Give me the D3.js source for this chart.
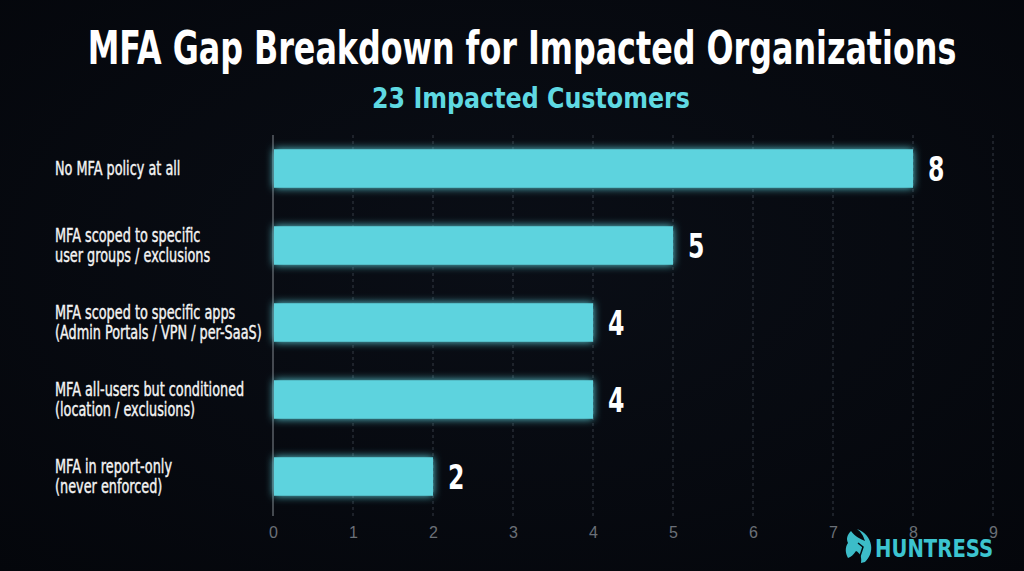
<!DOCTYPE html>
<html><head><meta charset="utf-8">
<script src="https://cdn.jsdelivr.net/npm/d3@7"></script>
<style>
html,body{margin:0;padding:0;background:#05080e;}
svg{display:block;}
</style></head>
<body>
<svg id="chart" width="1024" height="571"></svg>
<script>
const titleText = "MFA Gap Breakdown for Impacted Organizations";
const subtitleText = "23 Impacted Customers";
const categories = [
  ["No MFA policy at all"],
  ["MFA scoped to specific", "user groups / exclusions"],
  ["MFA scoped to specific apps", "(Admin Portals / VPN / per-SaaS)"],
  ["MFA all-users but conditioned", "(location / exclusions)"],
  ["MFA in report-only", "(never enforced)"]
];
const values = [8, 5, 4, 4, 2];
const xTicks = [0,1,2,3,4,5,6,7,8,9];
const brandText = "HUNTRESS";

const svg = d3.select("#chart");
const W = 1024, H = 571;
const cond = "'Liberation Sans Narrow','DejaVu Sans Condensed','Roboto Condensed',sans-serif";

const defs = svg.append("defs");
const bg = defs.append("radialGradient").attr("id","bg").attr("cx","50%").attr("cy","45%").attr("r","75%");
bg.append("stop").attr("offset","0%").attr("stop-color","#0a0e16");
bg.append("stop").attr("offset","100%").attr("stop-color","#04060b");
const glow = defs.append("filter").attr("id","glow").attr("x","-10%").attr("y","-60%").attr("width","120%").attr("height","220%");
glow.append("feGaussianBlur").attr("in","SourceGraphic").attr("stdDeviation",4).attr("result","b");
const fm = glow.append("feMerge");
fm.append("feMergeNode").attr("in","b");
fm.append("feMergeNode").attr("in","SourceGraphic");

svg.append("rect").attr("width",W).attr("height",H).attr("fill","url(#bg)");

const x = d3.scaleLinear().domain([0,9]).range([273,993]);
const y = d3.scaleBand().domain(d3.range(categories.length)).range([130,515]).paddingInner(0.5).paddingOuter(0.25);

// title
svg.append("text").attr("transform","translate(522,64) scale(0.86,1.12)").attr("text-anchor","middle")
  .attr("font-family",cond).attr("font-weight","bold").attr("font-size",42)
  .attr("fill","#ffffff").attr("textLength",1010).attr("lengthAdjust","spacingAndGlyphs")
  .text(titleText);
svg.append("text").attr("transform","translate(531,108) scale(0.85,1.1)").attr("text-anchor","middle")
  .attr("font-family",cond).attr("font-size",26).attr("font-weight","bold")
  .attr("fill","#5fd9e2").attr("textLength",374).attr("lengthAdjust","spacingAndGlyphs")
  .text(subtitleText);

// grid
const grid = svg.append("g");
grid.selectAll("line").data(xTicks.filter(d=>d>0)).join("line")
  .attr("x1",d=>x(d)).attr("x2",d=>x(d)).attr("y1",135).attr("y2",516)
  .attr("stroke","#343a44").attr("stroke-width",1).attr("stroke-dasharray","3,3");
svg.append("line").attr("x1",x(0)).attr("x2",x(0)).attr("y1",135).attr("y2",516)
  .attr("stroke","#5a5f66").attr("stroke-width",1.5);

// axis
const axis = d3.axisBottom(x).tickValues(xTicks).tickSize(0).tickPadding(0).tickFormat(d3.format("d"));
const ag = svg.append("g").attr("transform","translate(0,538)").call(axis);
ag.select(".domain").remove();
ag.selectAll("text").attr("fill","#6b7078").attr("font-size",16)
  .attr("font-family","'Liberation Sans','DejaVu Sans',sans-serif").attr("dy","0");

// bars
svg.append("g").selectAll("rect").data(values).join("rect")
  .attr("x",x(0)+1).attr("y",(d,i)=>y(i)).attr("width",d=>x(d)-x(0)-1).attr("height",y.bandwidth())
  .attr("fill","#5dd3de").attr("filter","url(#glow)");

// value labels
svg.append("g").selectAll("text").data(values).join("text")
  .attr("transform",(d,i)=>`translate(${x(d)+15},${y(i)+y.bandwidth()/2+12}) scale(0.82,1.08)`)
  .attr("font-family",cond).attr("font-weight","bold").attr("font-size",32)
  .attr("fill","#ffffff").text(d=>d);

// category labels
const cl = svg.append("g").selectAll("text").data(categories).join("text")
  .attr("transform",(d,i)=>`translate(55,${y(i)+y.bandwidth()/2 + (d.length===1?6:-4)}) scale(0.84,1.1)`)
  .attr("font-family",cond).attr("font-size",17).attr("font-weight","normal").attr("fill","#f4f4f4")
  .attr("stroke","#f4f4f4").attr("stroke-width",0.35);
cl.selectAll("tspan").data(d=>d).join("tspan")
  .attr("x",0).attr("dy",(d,j)=>j===0?0:18.5).text(d=>d);

// brand
const bgp = svg.append("g").attr("transform","translate(845,529)");
bgp.append("path")
  .attr("d","M6,2 C10,8 16,10 20,12 C18,6 16,3 12,0 C20,3 25,9 26,16 C27,22 25,28 20,33 L16,34 C17,28 15,24 11,22 C8,26 6,28 3,29 C0,24 0,18 3,14 C1,10 2,6 6,2 Z")
  .attr("fill","#3cbcc8");
bgp.append("path").attr("d","M13,14 L18,18 L14,30").attr("stroke","#05080e").attr("stroke-width",1.5).attr("fill","none");
bgp.append("text").attr("transform","translate(30,28) scale(0.85,1.05)").attr("font-family",cond).attr("font-weight","bold")
  .attr("font-size",24).attr("fill","#3cc4d0").attr("textLength",139).attr("lengthAdjust","spacingAndGlyphs")
  .text(brandText);
</script>
</body></html>
